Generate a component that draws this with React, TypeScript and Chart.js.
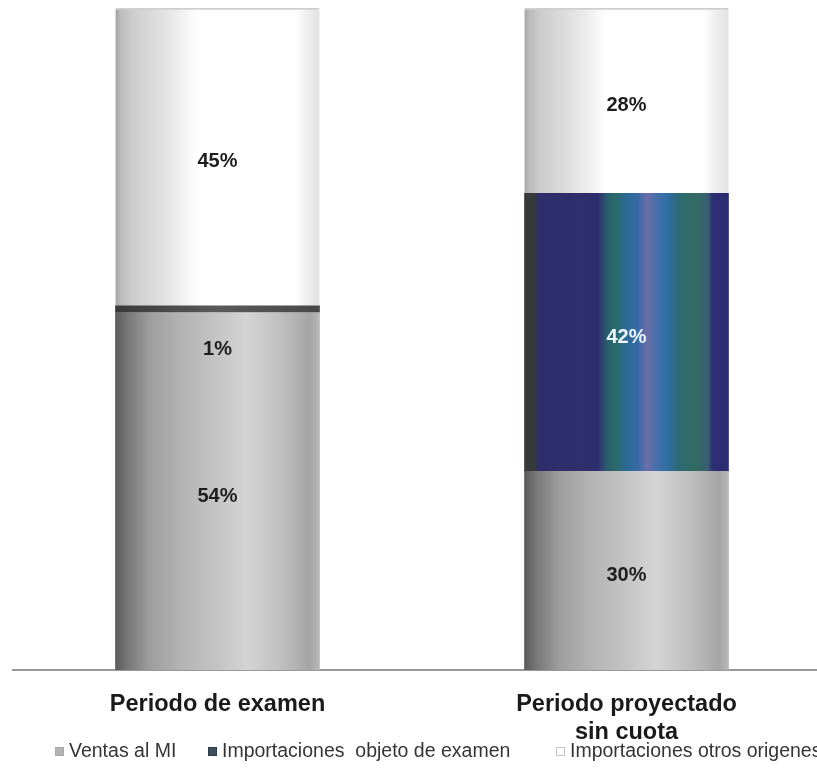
import React, { useEffect, useRef } from "react";
import { Chart, registerables } from "chart.js";

Chart.register(...registerables);

// ---- data ----
const categories: (string | string[])[] = ["Periodo de examen", ["Periodo proyectado", "sin cuota"]];
const seriesNames = ["Ventas al MI", "Importaciones  objeto de examen", "Importaciones otros origenes"];
const ventasMI = [54, 30];
const importacionesObjeto = [1, 42];
const importacionesOtros = [45, 28];

// ---- styling ----
const BAR_W = 204;
type Stop = [number, string];
const ventasStops: Stop[] = [
  [0, "#5a5a5a"], [0.05, "#747474"], [0.17, "#9e9e9e"], [0.33, "#b4b4b4"], [0.5, "#c4c4c4"],
  [0.64, "#d4d4d4"], [0.79, "#c2c2c2"], [0.9, "#b0b0b0"], [0.95, "#a4a4a4"], [1, "#b8b8b8"],
];
const otrosStops: Stop[] = [
  [0, "#a4a4a4"], [0.025, "#bcbcbc"], [0.08, "#cccccc"], [0.18, "#dadada"], [0.3, "#ececec"],
  [0.4, "#ffffff"], [0.88, "#ffffff"], [0.93, "#f0f0f0"], [1, "#e2e2e2"],
];
const objetoStops: Stop[] = [
  [0, "#363a38"], [0.055, "#363a3c"], [0.065, "#2f2e6c"], [0.36, "#2e2e6e"], [0.4, "#2b5a6e"],
  [0.44, "#2a6a66"], [0.5, "#2b6a96"], [0.56, "#3a6aa8"], [0.6, "#6c6ea6"], [0.64, "#4a70aa"],
  [0.7, "#2f6ea4"], [0.76, "#2c6a72"], [0.84, "#336a62"], [0.9, "#385e72"], [0.92, "#2e2e76"], [1, "#2c2c72"],
];
const objetoThinStops: Stop[] = [[0, "#3a3a3a"], [0.5, "#5a5a5a"], [1, "#484848"]];

function gradFor(stopsFor: (i: number) => Stop[], fallback: string) {
  return (c: any) => {
    const chart = c.chart;
    const xs = chart.scales && chart.scales.x;
    if (!chart.chartArea || !xs) return fallback;
    const cx = xs.getPixelForValue(c.dataIndex);
    const g = chart.ctx.createLinearGradient(cx - BAR_W / 2, 0, cx + BAR_W / 2, 0);
    stopsFor(c.dataIndex).forEach(([o, col]) => g.addColorStop(o, col));
    return g;
  };
}

const legendBoxes = [
  { fill: "#b4b4b4", stroke: "#a8a8a8" },
  { fill: "#3d4e5c", stroke: "#2e3a44" },
  { fill: "#ffffff", stroke: "#c4c4c4" },
];
const legendX = [55, 208, 556];

const segLabels = {
  id: "segLabels",
  afterDatasetsDraw(chart: any) {
    const ctx = chart.ctx;
    ctx.save();
    ctx.font = "bold 20px 'Liberation Sans', Arial, sans-serif";
    ctx.textAlign = "center";
    ctx.textBaseline = "middle";
    chart.data.datasets.forEach((ds: any, di: number) => {
      const meta = chart.getDatasetMeta(di);
      meta.data.forEach((el: any, i: number) => {
        const v = ds.data[i];
        const { x, y, base } = el.getProps(["x", "y", "base"], true);
        const h = base - y;
        const small = h < 20;
        const cy = small ? base + 37 : (y + base) / 2 + 5;
        ctx.fillStyle = di === 1 && !small ? "#eef6ff" : "#1e1e1e";
        ctx.fillText(v + "%", x, cy);
      });
    });
    ctx.restore();
  },
};

const bottomLegend = {
  id: "bottomLegend",
  afterDraw(chart: any) {
    const ctx = chart.ctx;
    ctx.save();
    ctx.font = "19.5px 'Liberation Sans', Arial, sans-serif";
    ctx.textBaseline = "alphabetic";
    ctx.textAlign = "left";
    chart.data.datasets.forEach((ds: any, i: number) => {
      const bx = legendX[i];
      const box = legendBoxes[i];
      ctx.fillStyle = box.fill;
      ctx.fillRect(bx, 747, 9, 9);
      ctx.strokeStyle = box.stroke;
      ctx.lineWidth = 1;
      ctx.strokeRect(bx + 0.5, 747.5, 8, 8);
      ctx.fillStyle = "#353535";
      ctx.fillText(ds.label, bx + 14, 757);
    });
    ctx.restore();
  },
};

export default function App() {
  const ref = useRef<HTMLCanvasElement>(null);
  useEffect(() => {
    if (!ref.current) return;
    const chart = new Chart(ref.current, {
      type: "bar",
      data: {
        labels: categories as any,
        datasets: [
          {
            label: seriesNames[0],
            data: ventasMI,
            backgroundColor: gradFor(() => ventasStops, "#b4b4b4"),
            borderWidth: 0,
            barThickness: BAR_W,
          },
          {
            label: seriesNames[1],
            data: importacionesObjeto,
            backgroundColor: gradFor((i) => (i === 0 ? objetoThinStops : objetoStops), "#2e2e6e"),
            borderWidth: 0,
            barThickness: BAR_W,
          },
          {
            label: seriesNames[2],
            data: importacionesOtros,
            backgroundColor: gradFor(() => otrosStops, "#ffffff"),
            borderWidth: { top: 2, left: 0, right: 0, bottom: 0 } as any,
            borderSkipped: false as any,
            borderColor: "#cfcfcf",
            barThickness: BAR_W,
          },
        ],
      },
      options: {
        animation: false,
        responsive: true,
        maintainAspectRatio: false,
        layout: { padding: { left: 13, right: 9, top: 8, bottom: 0 } },
        plugins: { legend: { display: false }, tooltip: { enabled: false } },
        scales: {
          x: {
            stacked: true,
            grid: { display: false, drawTicks: false },
            border: { display: true, color: "#999999", width: 2 },
            ticks: {
              color: "#1a1a1a",
              font: { family: "'Liberation Sans', Arial, sans-serif", size: 23.5, weight: "bold", lineHeight: 1.19 },
              padding: 21,
              maxRotation: 0,
              autoSkip: false,
            },
            afterFit: (s: any) => {
              s.height = 100;
            },
          },
          y: { stacked: true, min: 0, max: 100, display: false },
        },
      },
      plugins: [segLabels, bottomLegend],
    });
    return () => chart.destroy();
  }, []);

  return (
    <div style={{ position: "absolute", left: 0, top: 0, width: 817, height: 770, overflow: "hidden", background: "#fff" }}>
      <div style={{ position: "relative", width: 840, height: 770 }}>
        <canvas ref={ref} />
      </div>
    </div>
  );
}
